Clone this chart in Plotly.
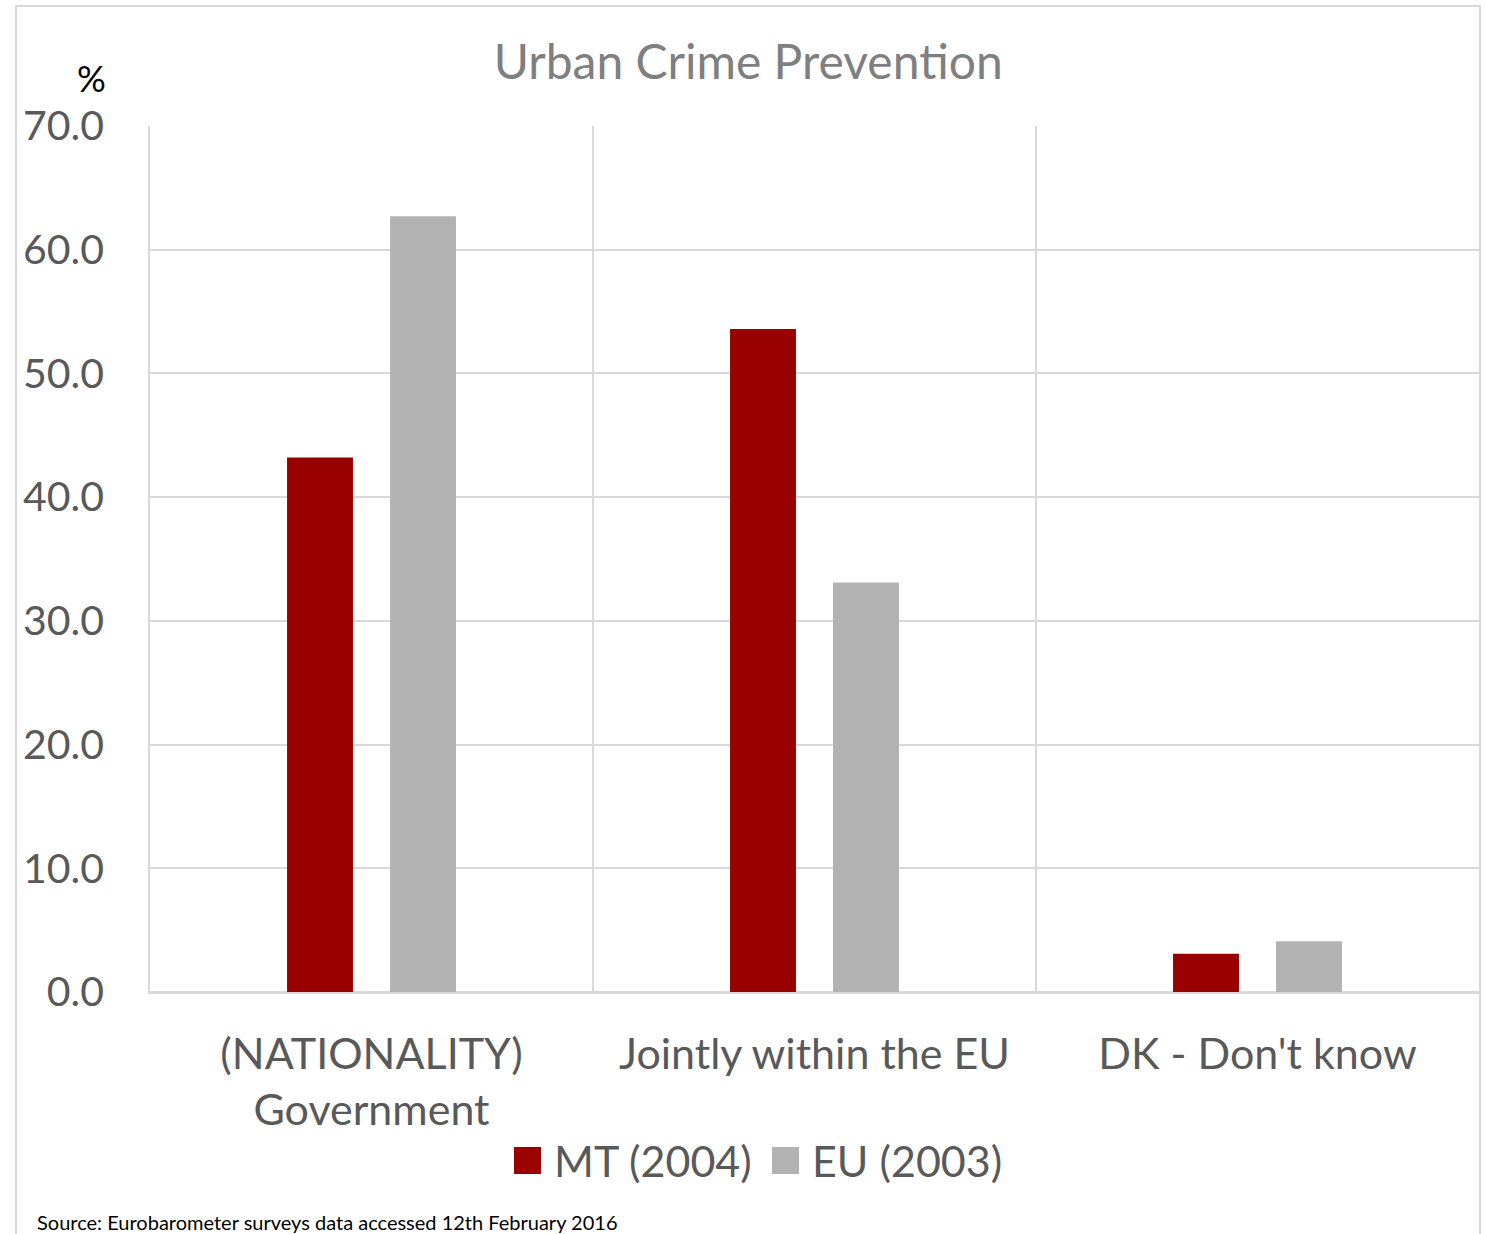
import plotly.graph_objects as go

# Survey answers and shares (%)
categories = ["(NATIONALITY)<br>Government", "Jointly within the EU", "DK - Don't know"]
series_names = ["MT (2004)", "EU (2003)"]
mt_2004 = [43.2, 53.6, 3.1]
eu_2003 = [62.7, 33.1, 4.1]
y_ticks = [0, 10, 20, 30, 40, 50, 60, 70]

colors = ["#990000", "#b2b2b2"]
FONT = "Lato"
TEXT = "#595959"
GRID = "#d9d9d9"

fig = go.Figure()
for name, vals, col in zip(series_names, [mt_2004, eu_2003], colors):
    fig.add_trace(go.Bar(
        x=categories, y=vals, name=name,
        marker=dict(color=col, line=dict(width=0)),
        showlegend=False,
    ))

fig.update_layout(
    width=1486, height=1234,
    margin=dict(l=150, r=7, t=126, b=242),
    paper_bgcolor="white", plot_bgcolor="white",
    barmode="group", bargap=0.535, bargroupgap=0.36,
    font=dict(family=FONT, color=TEXT),
    title=dict(text="Urban Crime Prevention", x=0.5035, xanchor="center",
               y=1 - 62 / 1234, yanchor="middle",
               font=dict(family=FONT, size=48, color="#7f7f7f")),
)

fig.update_xaxes(
    type="category", tickson="boundaries", showgrid=True, gridcolor=GRID,
    gridwidth=1.5, ticks="", showline=True, linecolor=GRID, linewidth=1.5,
    tickfont=dict(family=FONT, size=43, color=TEXT), ticklabelstandoff=24,
)
fig.update_yaxes(
    range=[0, 70], tickvals=y_ticks, ticktext=[f"{v:.1f}" for v in y_ticks],
    showgrid=True, gridcolor=GRID, gridwidth=1.5, zeroline=True,
    zerolinecolor=GRID, zerolinewidth=1.5, showline=True, linecolor=GRID,
    linewidth=1.5, ticks="", tickfont=dict(family=FONT, size=41, color=TEXT),
    ticklabelstandoff=36,
)

# unit label above the value axis
fig.add_annotation(text="%", xref="paper", yref="paper",
                   x=(91 - 150) / 1329, y=(992 - 78) / 866,
                   xanchor="center", yanchor="middle", showarrow=False,
                   font=dict(family=FONT, size=36, color="black"))

# legend drawn with large square swatches
swatch_left = [514, 772]
for name, col, x0 in zip(series_names, colors, swatch_left):
    fig.add_shape(type="rect", xref="paper", yref="paper",
                  x0=(x0 - 150) / 1329, x1=(x0 + 27 - 150) / 1329,
                  y0=(992 - 1174) / 866, y1=(992 - 1147) / 866,
                  fillcolor=col, line=dict(width=0))
    fig.add_annotation(text=name, xref="paper", yref="paper",
                       x=(x0 + 38 - 150) / 1329, y=(992 - 1160) / 866,
                       xanchor="left", yanchor="middle", showarrow=False,
                       font=dict(family=FONT, size=43, color=TEXT))

# source note
fig.add_annotation(text="Source: Eurobarometer surveys data accessed 12th February 2016",
                   xref="paper", yref="paper",
                   x=(35 - 150) / 1329, y=(992 - 1222) / 866,
                   xanchor="left", yanchor="middle", showarrow=False,
                   font=dict(family=FONT, size=20, color="black"))

# chart frame
fig.add_shape(type="rect", xref="paper", yref="paper",
              x0=(16 - 150) / 1329, x1=(1480 - 150) / 1329,
              y0=(992 - 1260) / 866, y1=(992 - 6) / 866,
              line=dict(color=GRID, width=2), fillcolor="rgba(0,0,0,0)",
              layer="below")

fig.write_html("out.html")
